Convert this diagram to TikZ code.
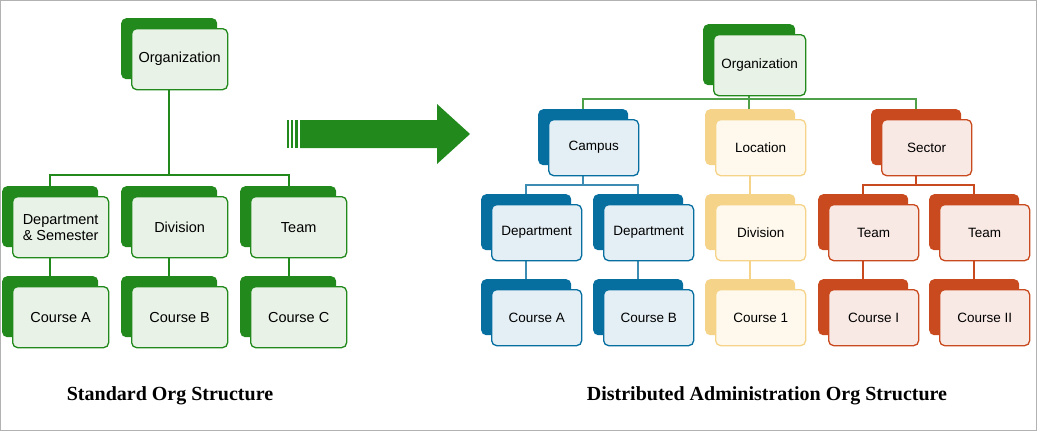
\documentclass[tikz,border=0pt]{standalone}
\usepackage{fontspec}
\setmainfont{Liberation Sans}
\newfontfamily\capfont{Liberation Serif}
\definecolor{gD}{RGB}{34,137,28}\definecolor{gL}{RGB}{232,242,230}
\definecolor{bD}{RGB}{7,110,160}\definecolor{bL}{RGB}{228,239,245}\definecolor{bLn}{RGB}{60,140,180}
\definecolor{yD}{RGB}{245,212,138}\definecolor{yL}{RGB}{254,249,236}
\definecolor{oD}{RGB}{200,74,30}\definecolor{oL}{RGB}{249,233,228}
\tikzset{
 back/.style={draw=none,fill=#1,rounded corners=5pt,anchor=north west,inner sep=0pt},
 front/.style={draw=#1,line width=1.3pt,rounded corners=5pt,anchor=north west,inner sep=0pt,align=center,font=\fontsize{14.5}{16}\selectfont},
 rfont/.style={font=\fontsize{13.5}{15}\selectfont},
 captxt/.style={font=\capfont\bfseries\fontsize{20}{22}\selectfont},
 ln/.style={draw=#1,line width=1.5pt}
}
% name, x, y (back top-left), w, h, dark, light, text
\newcommand\obox[9][]{%
 \node[back=#7,minimum width=#5pt,minimum height=#6pt] (#2b) at (#3,#4) {};
 \node[front=#7,fill=#8,minimum width=#5pt,minimum height=#6pt,#1] (#2) at (#3+10,#4+10) {#9};}
\begin{document}
\begin{tikzpicture}[x=1pt,y=-1pt]
\draw[draw=gray!60,fill=white,line width=1pt] (0.5,0.5) rectangle (1036.5,430.5);
\useasboundingbox (0,0) rectangle (1037,431);
% left
\draw[ln=gD] (169,90) -- (169,175) coordinate (lh);
\draw[ln=gD] (50,186) |- (lh) -| (289,186);
\draw[ln=gD] (50,258) -- (50,276); \draw[ln=gD] (169,258) -- (169,276); \draw[ln=gD] (289,258) -- (289,276);
\obox{org}{121}{18}{96}{61}{gD}{gL}{Organization}
\obox{dep}{2}{186}{96}{61}{gD}{gL}{Department\\\& Semester}
\obox{div}{121}{186}{96}{61}{gD}{gL}{Division}
\obox{team}{240}{186}{96}{61}{gD}{gL}{Team}
\obox{ca}{2}{276}{96}{61}{gD}{gL}{Course A}
\obox{cb}{121}{276}{96}{61}{gD}{gL}{Course B}
\obox{cc}{240}{276}{96}{61}{gD}{gL}{Course C}
% arrow
\fill[gD] (300,120) -- (437,120) -- (437,104) -- (470,134) -- (437,164) -- (437,148) -- (300,148) -- cycle;
\fill[gD] (287,120) rectangle (289,148); \fill[gD] (291,120) rectangle (293,148); \fill[gD] (295,120) rectangle (298,148);
% right connectors
\draw[ln=gD!80] (749,96) -- (749,99) coordinate (rh);
\draw[ln=gD!80] (583,109) |- (rh) -| (916,109); \draw[ln=gD!80] (749,99) -- (749,109);
\draw[ln=bLn] (583,175) -- (583,185) coordinate (bh);
\draw[ln=bLn] (526,194) |- (bh) -| (638,194);
\draw[ln=bLn] (526,260) -- (526,279); \draw[ln=bLn] (638,260) -- (638,279);
\draw[ln=yD] (750,175) -- (750,194); \draw[ln=yD] (750,260) -- (750,279);
\draw[ln=oD] (916,175) -- (916,185) coordinate (oh);
\draw[ln=oD] (863,194) |- (oh) -| (974,194);
\draw[ln=oD] (863,260) -- (863,279); \draw[ln=oD] (974,260) -- (974,279);
\obox[rfont]{rorg}{703}{24}{92}{61}{gD}{gL}{Organization}
\obox[rfont]{camp}{538}{109}{90}{56}{bD}{bL}{Campus}
\obox[rfont]{loc}{705}{109}{90}{56}{yD}{yL}{Location}
\obox[rfont]{sec}{871}{109}{90}{56}{oD}{oL}{Sector}
\obox[rfont]{rd1}{481}{194}{90}{56}{bD}{bL}{Department}
\obox[rfont]{rd2}{593}{194}{90}{56}{bD}{bL}{Department}
\obox[rfont]{rdiv}{705}{194}{90}{56}{yD}{yL}{Division}
\obox[rfont]{rt1}{818}{194}{90}{56}{oD}{oL}{Team}
\obox[rfont]{rt2}{929}{194}{90}{56}{oD}{oL}{Team}
\obox[rfont]{rca}{481}{279}{90}{56}{bD}{bL}{Course A}
\obox[rfont]{rcb}{593}{279}{90}{56}{bD}{bL}{Course B}
\obox[rfont]{rc1}{705}{279}{90}{56}{yD}{yL}{Course 1}
\obox[rfont]{rci}{818}{279}{90}{56}{oD}{oL}{Course I}
\obox[rfont]{rcii}{929}{279}{90}{56}{oD}{oL}{Course II}
\node[captxt] (c1) at (170,396) {Standard Org Structure};
\node[captxt] (c2) at (767,396) {Distributed Administration Org Structure};
\end{tikzpicture}
\end{document}
